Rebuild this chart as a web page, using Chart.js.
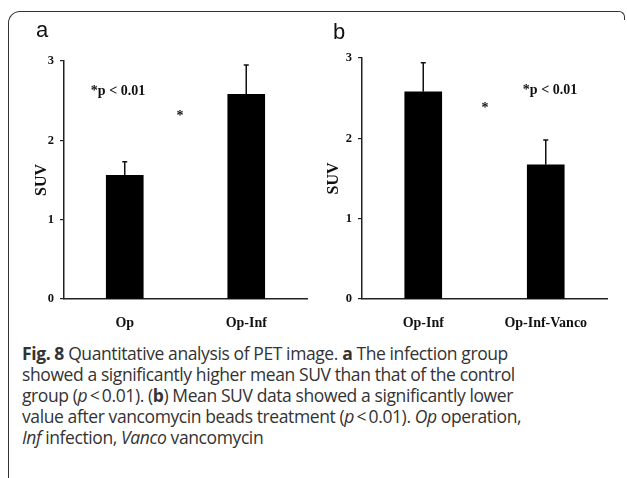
<!DOCTYPE html>
<html>
<head>
<meta charset="utf-8">
<script src="https://cdn.jsdelivr.net/npm/chart.js@4/dist/chart.umd.min.js"></script>
<style>
  body { margin: 0; background: #fff; width: 627px; height: 478px; overflow: hidden; position: relative; }
  .frame { position: absolute; left: 8px; top: 11px; width: 615px; height: 480px;
           border-top: 1.5px solid #333; border-left: 1.5px solid #333; border-right: 1.5px solid #333;
           border-top-left-radius: 12px; border-top-right-radius: 6px; }
  .frame-mask { position: absolute; left: 615px; top: 20px; width: 20px; height: 470px; background: #fff; }
  .panel { position: absolute; top: 0; height: 340px; }
  .tag { position: absolute; font-family: "Liberation Sans", Arial, sans-serif; font-size: 22px; color: #111; }
  .caption { position: absolute; left: 22px; top: 343px; font-family: "Open Sans", sans-serif;
             font-size: 17.5px; line-height: 21px; color: #333; letter-spacing: -0.4px; white-space: nowrap; }
</style>
</head>
<body>
<div class="frame"></div>
<div class="frame-mask"></div>
<div class="panel" style="left:0;width:320px"><canvas id="graficoA"></canvas></div>
<div class="panel" style="left:310px;width:317px"><canvas id="graficoB"></canvas></div>
<div class="tag" style="left:36px;top:17px">a</div>
<div class="tag" style="left:333px;top:19px">b</div>
<div class="caption"><b>Fig. 8</b> Quantitative analysis of PET image. <b>a</b> The infection group<br>showed a significantly higher mean SUV than that of the control<br>group (<i>p</i>&thinsp;&lt;&thinsp;0.01). (<b>b</b>) Mean SUV data showed a significantly lower<br>value after vancomycin beads treatment (<i>p</i>&thinsp;&lt;&thinsp;0.01). <i>Op</i> operation,<br><i>Inf</i> infection, <i>Vanco</i> vancomycin</div>
<script>
// Datos panel a
const gruposA = ['Op', 'Op-Inf'];
const suvA = [1.56, 2.58];
const errA = [0.17, 0.37];
// Datos panel b
const gruposB = ['Op-Inf', 'Op-Inf-Vanco'];
const suvB = [2.58, 1.67];
const errB = [0.36, 0.31];
const ticksY = [0, 1, 2, 3];

const serif = '"Liberation Serif", "Times New Roman", serif';

// barras de error (solo hacia arriba) + textos
const errorBars = {
    id: 'errorBars',
    afterDatasetsDraw(chart, args, opts) {
        const ctx = chart.ctx;
        const y = chart.scales.y;
        const meta = chart.getDatasetMeta(0);
        ctx.save();
        ctx.strokeStyle = '#111';
        ctx.lineWidth = 1.5;
        meta.data.forEach((bar, i) => {
            const v = chart.data.datasets[0].data[i];
            const top = y.getPixelForValue(v + opts.err[i]);
            ctx.beginPath();
            ctx.moveTo(bar.x, bar.y);
            ctx.lineTo(bar.x, top);
            ctx.moveTo(bar.x - 2.5, top);
            ctx.lineTo(bar.x + 2.5, top);
            ctx.stroke();
        });
        ctx.fillStyle = '#111';
        ctx.textAlign = 'center';
        ctx.textBaseline = 'middle';
        const a = chart.chartArea;
        opts.notes.forEach(n => {
            ctx.font = 'bold ' + n.size + 'px ' + serif;
            ctx.fillText(n.text, a.left + n.dx, a.top + n.dy);
        });
        ctx.restore();
    }
};

function panel(id, labels, data, err, notes, pad, yWidth) {
    return new Chart(document.getElementById(id), {
        type: 'bar',
        data: {
            labels: labels,
            datasets: [{
                data: data,
                backgroundColor: '#000',
                barThickness: 37
            }]
        },
        options: {
            responsive: false,
            animation: false,
            layout: { padding: pad },
            plugins: {
                legend: { display: false },
                tooltip: { enabled: false },
                errorBars: { err: err, notes: notes }
            },
            scales: {
                x: {
                    grid: { display: false },
                    border: { color: '#222', width: 1.5 },
                    ticks: { color: '#111', font: { family: serif, size: 14, weight: 'bold' }, padding: 8 },
                    afterFit: s => { s.height = 41; }
                },
                y: {
                    min: 0, max: 3,
                    afterBuildTicks: s => { s.ticks = ticksY.map(v => ({ value: v })); },
                    grid: { drawOnChartArea: false, tickLength: 4, color: '#222', lineWidth: 1.2 },
                    border: { color: '#222', width: 1.5 },
                    ticks: { color: '#111', font: { family: serif, size: 12.5, weight: 'bold' }, padding: 6 },
                    title: { display: true, text: 'SUV', color: '#111', font: { family: serif, size: 16, weight: 'bold' }, padding: 0 },
                    afterFit: s => { s.width = yWidth; }
                }
            }
        },
        plugins: [errorBars]
    });
}

function size(id, w, h) {
    const c = document.getElementById(id);
    c.width = w; c.height = h;
    c.style.width = w + 'px'; c.style.height = h + 'px';
}
size('graficoA', 320, 340);
size('graficoB', 317, 340);

panel('graficoA', gruposA, suvA, errA,
    [{ text: '*p < 0.01', dx: 54, dy: 30, size: 14 }, { text: '*', dx: 116, dy: 55, size: 14 }],
    { left: 32, right: 13, top: 61, bottom: 0 }, 32);
panel('graficoB', gruposB, suvB, errB,
    [{ text: '*p < 0.01', dx: 188, dy: 32, size: 14 }, { text: '*', dx: 123, dy: 50, size: 14 }],
    { left: 14, right: 20, top: 58, bottom: 0 }, 38);
</script>
</body>
</html>
